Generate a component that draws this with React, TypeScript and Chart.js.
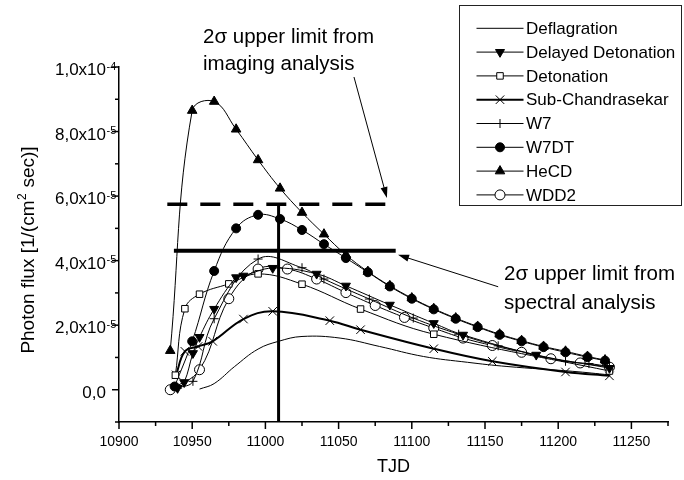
import React, { useEffect, useRef } from 'react';
import { Chart, registerables } from 'chart.js';

Chart.register(...registerables);

const FONT = '"Liberation Sans", Arial, Helvetica, sans-serif';

// ---- axes (flux in units of 1e-5 photons/(cm^2 s)) ----
const xMin = 10900;
const xMax = 11275;
const yMin = -1;
const yMax = 10;
const xTickValues = [10900, 10950, 11000, 11050, 11100, 11150, 11200, 11250];
const xTickLabels = ['10900', '10950', '11000', '11050', '11100', '11150', '11200', '11250'];
const yTickValues = [0, 2, 4, 6, 8, 10];
const yTickMantissa = ['0,0', '2,0', '4,0', '6,0', '8,0', '1,0'];
const yTickExponent = ['', '-5', '-5', '-5', '-5', '-4'];

// ---- upper limits ----
const imagingLimit = 5.75;
const imagingRange = [10933, 11085];
const spectralLimit = 4.31;
const spectralRange = [10937.5, 11089];
const markerTJD = 11009;

// ---- model light curves ----
const seriesNames = ['Deflagration', 'Delayed Detonation', 'Detonation', 'Sub-Chandrasekar', 'W7', 'W7DT', 'HeCD', 'WDD2'];

const deflagrationTJD = [10955, 10965, 10979, 10995, 11009, 11025, 11051, 11078, 11108, 11138, 11165, 11210, 11235];
const deflagrationFlux = [0.02, 0.19, 0.72, 1.26, 1.5, 1.65, 1.6, 1.34, 1.03, 0.85, 0.72, 0.57, 0.46];

const delayedTJD = [10940, 10944.5, 10950.5, 10955, 10965, 10980, 10985, 11005, 11035, 11055, 11085, 11115, 11135, 11185, 11235];
const delayedFlux = [0.05, 0.23, 1.13, 1.63, 2.5, 3.48, 3.53, 3.77, 3.59, 3.22, 2.63, 2.06, 1.7, 1.08, 0.67];

const detonationTJD = [10938.5, 10945, 10955, 10975, 10995, 11025, 11065, 11115, 11235];
const detonationFlux = [0.45, 2.51, 2.96, 3.28, 3.59, 3.27, 2.5, 1.72, 0.58];

const subChTJD = [10939, 10945, 10954, 10964, 10985, 11005, 11044, 11065, 11115, 11155, 11205, 11235];
const subChFlux = [0.46, 1.19, 1.34, 1.5, 2.19, 2.43, 2.14, 1.86, 1.27, 0.88, 0.55, 0.43];

const w7TJD = [10940, 10950.5, 10965, 10995, 11025, 11040, 11071, 11101, 11132, 11159, 11205, 11221, 11235];
const w7Flux = [0.05, 0.26, 2.2, 4.05, 3.78, 3.43, 2.81, 2.22, 1.72, 1.36, 0.88, 0.81, 0.72];

const w7dtTJD = [10938, 10950, 10965, 10980, 10995, 11010, 11025, 11040, 11055, 11070, 11085, 11100, 11115, 11130, 11145, 11160, 11175, 11190, 11205, 11220, 11232];
const w7dtFlux = [0.1, 1.5, 3.68, 5.0, 5.42, 5.29, 4.95, 4.51, 4.08, 3.64, 3.2, 2.82, 2.49, 2.2, 1.94, 1.7, 1.5, 1.32, 1.16, 1.01, 0.9];

const hecdTJD = [10935, 10950, 10965, 10980, 10995, 11010, 11025, 11040, 11055, 11070, 11085, 11100, 11115, 11130, 11145, 11160, 11175, 11190, 11205, 11220, 11232];
const hecdFlux = [1.21, 8.65, 8.93, 8.07, 7.12, 6.24, 5.49, 4.82, 4.18, 3.66, 3.22, 2.84, 2.51, 2.22, 1.96, 1.72, 1.52, 1.34, 1.19, 1.03, 0.92];

const wdd2TJD = [10935, 10955, 10975, 10995, 11015, 11035, 11055, 11075, 11095, 11115, 11135, 11155, 11175, 11195, 11215, 11235];
const wdd2Flux = [0.0, 0.62, 2.82, 3.74, 3.74, 3.43, 3.01, 2.61, 2.24, 1.91, 1.6, 1.37, 1.16, 0.96, 0.83, 0.7];

const seriesTJD = [deflagrationTJD, delayedTJD, detonationTJD, subChTJD, w7TJD, w7dtTJD, hecdTJD, wdd2TJD];
const seriesFlux = [deflagrationFlux, delayedFlux, detonationFlux, subChFlux, w7Flux, w7dtFlux, hecdFlux, wdd2Flux];

type MStyle = { shape: string | false; r: number; rot: number; fill: string; lw: number };
const markerStyles: MStyle[] = [
  { shape: false, r: 0, rot: 0, fill: '#000', lw: 1 },
  { shape: 'triangle', r: 5.2, rot: 180, fill: '#000', lw: 1 },
  { shape: 'rect', r: 4.6, rot: 0, fill: '#fff', lw: 1 },
  { shape: 'crossRot', r: 6, rot: 0, fill: '#000', lw: 2 },
  { shape: 'cross', r: 4.5, rot: 0, fill: '#000', lw: 1 },
  { shape: 'circle', r: 4.5, rot: 0, fill: '#000', lw: 1 },
  { shape: 'triangle', r: 5.5, rot: 0, fill: '#000', lw: 1 },
  { shape: 'circle', r: 5, rot: 0, fill: '#fff', lw: 1 },
];

function drawMarker(ctx: CanvasRenderingContext2D, m: MStyle, x: number, y: number) {
  if (!m.shape) return;
  ctx.save();
  ctx.lineWidth = 1;
  ctx.strokeStyle = '#000';
  ctx.fillStyle = m.fill;
  ctx.beginPath();
  const r = m.r;
  if (m.shape === 'circle') {
    ctx.arc(x, y, r, 0, Math.PI * 2);
    ctx.fill();
    ctx.stroke();
  } else if (m.shape === 'triangle') {
    let a = (m.rot * Math.PI) / 180;
    for (let i = 0; i < 3; i++) {
      const px = x + Math.sin(a) * r;
      const py = y - Math.cos(a) * r;
      if (i === 0) ctx.moveTo(px, py);
      else ctx.lineTo(px, py);
      a += (2 * Math.PI) / 3;
    }
    ctx.closePath();
    ctx.fill();
    ctx.stroke();
  } else if (m.shape === 'rect') {
    const s = r * Math.SQRT1_2;
    ctx.rect(x - s, y - s, 2 * s, 2 * s);
    ctx.fill();
    ctx.stroke();
  } else if (m.shape === 'cross') {
    ctx.moveTo(x, y - r);
    ctx.lineTo(x, y + r);
    ctx.moveTo(x - r, y);
    ctx.lineTo(x + r, y);
    ctx.stroke();
  } else if (m.shape === 'crossRot') {
    const s = r * Math.SQRT1_2;
    ctx.moveTo(x - s, y - s);
    ctx.lineTo(x + s, y + s);
    ctx.moveTo(x - s, y + s);
    ctx.lineTo(x + s, y - s);
    ctx.stroke();
  }
  ctx.restore();
}

function arrow(ctx: CanvasRenderingContext2D, x1: number, y1: number, x2: number, y2: number) {
  const ang = Math.atan2(y2 - y1, x2 - x1);
  const len = 11;
  const hw = 3.5;
  ctx.save();
  ctx.lineWidth = 1;
  ctx.beginPath();
  ctx.moveTo(x1, y1);
  ctx.lineTo(x2 - Math.cos(ang) * len * 0.8, y2 - Math.sin(ang) * len * 0.8);
  ctx.stroke();
  ctx.beginPath();
  ctx.moveTo(x2, y2);
  ctx.lineTo(x2 - Math.cos(ang) * len - Math.sin(ang) * hw, y2 - Math.sin(ang) * len + Math.cos(ang) * hw);
  ctx.lineTo(x2 - Math.cos(ang) * len + Math.sin(ang) * hw, y2 - Math.sin(ang) * len - Math.cos(ang) * hw);
  ctx.closePath();
  ctx.fill();
  ctx.restore();
}

const overlayPlugin = {
  id: 'overlay',
  afterDraw(chart: any) {
    const { ctx } = chart;
    const xs = chart.scales.x;
    const ys = chart.scales.y;
    const X = (v: number) => xs.getPixelForValue(v);
    const Y = (v: number) => ys.getPixelForValue(v);
    ctx.save();
    ctx.strokeStyle = '#000';
    ctx.fillStyle = '#000';

    // tick marks
    ctx.lineWidth = 1.5;
    for (let v = xMin; v <= xMax; v += 25) {
      const px = X(v);
      const major = v % 50 === 0;
      ctx.beginPath();
      ctx.moveTo(px, ys.bottom);
      ctx.lineTo(px, ys.bottom + (major ? 7 : 4));
      ctx.stroke();
    }
    for (let v = yMin; v <= yMax; v += 1) {
      const py = Y(v);
      const major = v % 2 === 0;
      ctx.beginPath();
      ctx.moveTo(xs.left, py);
      ctx.lineTo(xs.left - (major ? 7 : 4), py);
      ctx.stroke();
    }

    // x tick labels
    ctx.font = `14px ${FONT}`;
    ctx.textAlign = 'center';
    ctx.textBaseline = 'middle';
    xTickValues.forEach((v, i) => ctx.fillText(xTickLabels[i], X(v), ys.bottom + 20));

    // y tick labels with superscript exponent
    yTickValues.forEach((v, i) => {
      const py = Y(v);
      const base = yTickMantissa[i] + (yTickExponent[i] ? 'x10' : '');
      ctx.font = `17px ${FONT}`;
      ctx.textAlign = 'right';
      ctx.textBaseline = 'alphabetic';
      const right = xs.left - 13;
      ctx.fillText(base, right, py + 8);
      if (yTickExponent[i]) {
        ctx.font = `11px ${FONT}`;
        ctx.textAlign = 'left';
        ctx.fillText(yTickExponent[i], right + 0.5, py + 2.5);
      }
    });

    // axis titles
    ctx.font = `18px ${FONT}`;
    ctx.textAlign = 'center';
    ctx.textBaseline = 'middle';
    ctx.fillText('TJD', (xs.left + xs.right) / 2, 467);

    ctx.save();
    ctx.translate(33.5, 250);
    ctx.rotate(-Math.PI / 2);
    ctx.textBaseline = 'alphabetic';
    ctx.textAlign = 'left';
    const t1 = 'Photon flux [1/(cm';
    const t2 = '2';
    const t3 = ' sec)]';
    ctx.font = `19px ${FONT}`;
    const w1 = ctx.measureText(t1).width;
    const w3 = ctx.measureText(t3).width;
    ctx.font = `12px ${FONT}`;
    const w2 = ctx.measureText(t2).width;
    const total = w1 + w2 + 1 + w3;
    let sx = -total / 2;
    ctx.font = `19px ${FONT}`;
    ctx.fillText(t1, sx, 0);
    sx += w1 + 0.5;
    ctx.font = `12px ${FONT}`;
    ctx.fillText(t2, sx, -8);
    sx += w2 + 0.5;
    ctx.font = `19px ${FONT}`;
    ctx.fillText(t3, sx, 0);
    ctx.restore();

    // upper limits
    ctx.lineWidth = 3.5;
    ctx.setLineDash([20, 13]);
    ctx.beginPath();
    ctx.moveTo(X(imagingRange[0]), Y(imagingLimit));
    ctx.lineTo(X(imagingRange[1]), Y(imagingLimit));
    ctx.stroke();
    ctx.setLineDash([]);
    ctx.lineWidth = 4;
    ctx.beginPath();
    ctx.moveTo(X(spectralRange[0]), Y(spectralLimit));
    ctx.lineTo(X(spectralRange[1]), Y(spectralLimit));
    ctx.stroke();
    ctx.lineWidth = 3;
    ctx.beginPath();
    ctx.moveTo(X(markerTJD), ys.bottom);
    ctx.lineTo(X(markerTJD), Y(imagingLimit));
    ctx.stroke();

    // arrows
    arrow(ctx, X(11060.5), Y(9.69), X(11083), Y(5.94));
    arrow(ctx, X(11159), Y(3.19), X(11090.6), Y(4.18));

    // annotation text
    ctx.font = `20.5px ${FONT}`;
    ctx.textAlign = 'left';
    ctx.textBaseline = 'alphabetic';
    ctx.fillText('2\u03c3 upper limit from', 203, 43);
    ctx.fillText('imaging analysis', 203, 70);
    ctx.fillText('2\u03c3 upper limit from', 504, 280);
    ctx.fillText('spectral analysis', 504, 309);

    // legend
    ctx.lineWidth = 1;
    ctx.strokeStyle = '#222';
    ctx.strokeRect(459.5, 5.5, 222, 200);
    ctx.strokeStyle = '#000';
    seriesNames.forEach((name, i) => {
      const ly = 28.3 + i * 23.8;
      const m = markerStyles[i];
      ctx.lineWidth = m.lw;
      ctx.beginPath();
      ctx.moveTo(476.5, ly);
      ctx.lineTo(523.5, ly);
      ctx.stroke();
      drawMarker(ctx, m, 500, ly);
      ctx.font = `17px ${FONT}`;
      ctx.textAlign = 'left';
      ctx.textBaseline = 'middle';
      ctx.fillStyle = '#000';
      ctx.fillText(name, 526, ly + 1);
    });

    ctx.restore();
  },
};

export default function App() {
  const ref = useRef<HTMLCanvasElement | null>(null);
  useEffect(() => {
    if (!ref.current) return;
    const datasets = seriesNames.map((name, i) => {
      const m = markerStyles[i];
      return {
        label: name,
        data: seriesTJD[i].map((t, j) => ({ x: t, y: seriesFlux[i][j] })),
        borderColor: '#000',
        borderWidth: m.lw,
        backgroundColor: m.fill,
        pointStyle: m.shape === false ? false : (m.shape as any),
        pointRadius: m.r,
        pointRotation: m.rot,
        pointBorderColor: '#000',
        pointBackgroundColor: m.fill,
        pointBorderWidth: 1,
        tension: 0.4,
        fill: false,
      };
    });
    const chart = new Chart(ref.current, {
      type: 'line',
      data: { datasets: datasets as any },
      options: {
        responsive: false,
        animation: false,
        devicePixelRatio: 1,
        layout: { padding: { top: 67, right: 16, left: 0, bottom: 0 } },
        plugins: { legend: { display: false }, tooltip: { enabled: false } },
        scales: {
          x: {
            type: 'linear',
            min: xMin,
            max: xMax,
            grid: { display: false },
            border: { display: true, color: '#000', width: 1.5 },
            ticks: { display: false },
            afterFit: (s: any) => {
              s.height = 58;
            },
          },
          y: {
            type: 'linear',
            min: yMin,
            max: yMax,
            grid: { display: false },
            border: { display: true, color: '#000', width: 1.5 },
            ticks: { display: false },
            afterFit: (s: any) => {
              s.width = 119;
            },
          },
        },
      } as any,
      plugins: [overlayPlugin],
    });
    return () => chart.destroy();
  }, []);
  return (
    <div style={{ position: 'fixed', left: 0, top: 0, width: 684, height: 480, background: '#fff' }}>
      <canvas ref={ref} width={684} height={480} style={{ display: 'block' }} />
    </div>
  );
}
